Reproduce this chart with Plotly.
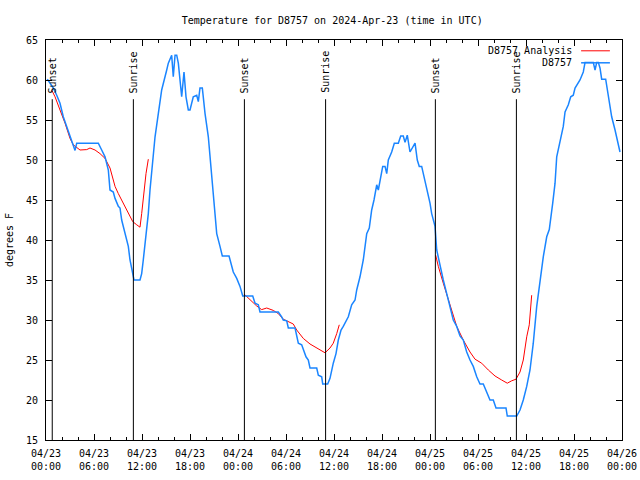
import pandas as pd
import plotly.graph_objects as go

BASE = pd.Timestamp("2024-04-23 00:00")

# Observed temperatures (hours since 04/23 00:00 UTC, degrees F)
obs_hours = [0.16, 0.91, 1.34, 1.75, 2.16, 2.59, 3.21, 3.63, 3.84, 6.54, 6.96, 7.38, 7.79, 8.0, 8.41, 8.63,
             9.04, 9.25, 9.46, 9.88, 10.29, 10.5, 10.84, 11.0, 11.75, 11.96, 12.16, 12.38, 12.59, 12.79, 13.0,
             13.21, 13.41, 13.63, 14.04, 14.46, 15.09, 15.29, 15.71, 15.91, 16.13, 16.34, 16.54, 16.96, 17.25,
             17.5, 17.79, 18.0, 18.41, 18.84, 19.04, 19.25, 19.54, 19.88, 20.29, 20.59, 20.71, 21.0, 21.13,
             21.34, 21.75, 22.04, 22.88, 23.21, 23.41, 23.84, 24.25, 24.59, 25.84, 26.13, 26.54, 26.75, 29.04,
             29.46, 29.66, 30.09, 30.29, 31.13, 31.54, 31.96, 32.5, 32.79, 33.0, 33.84, 34.04, 34.46, 34.59,
             35.21, 35.5, 35.91, 36.25, 36.54, 36.88, 37.16, 37.59, 37.79, 38.21, 38.63, 38.84, 39.25, 39.66,
             40.09, 40.41, 40.71, 41.0, 41.34, 41.54, 41.75, 42.09, 42.38, 42.59, 42.79, 43.21, 43.54, 44.04,
             44.34, 44.66, 44.88, 45.16, 45.5, 45.84, 46.13, 46.41, 46.66, 46.96, 47.16, 47.46, 47.79, 48.0,
             48.21, 48.5, 48.63, 48.84, 49.25, 49.66, 50.09, 50.5, 50.91, 51.34, 51.75, 52.16, 52.59, 53.0,
             53.41, 53.84, 54.25, 54.66, 55.09, 55.5, 55.91, 56.25, 57.5, 57.66, 58.84, 59.25, 59.66, 60.09,
             60.5, 60.91, 61.34, 61.75, 62.16, 62.59, 62.91, 63.34, 63.63, 63.84, 64.04, 64.25, 64.66, 64.88,
             65.29, 65.59, 65.91, 66.13, 66.41, 66.75, 67.16, 67.38, 68.41, 68.63, 68.84, 69.04, 69.25, 69.46,
             69.96, 70.16, 70.5, 70.71, 71.13, 71.54, 71.75]
obs_temp = [60.1, 59.0, 58.1, 57.1, 55.4, 54.2, 52.3, 51.2, 52.1, 52.1, 51.25, 50.4, 48.75, 46.25, 46.0, 45.2,
            44.2, 44.0, 42.5, 40.8, 39.2, 37.5, 35.8, 35.0, 35.0, 35.8, 37.5, 39.6, 41.25, 43.3, 46.25,
            48.75, 51.25, 52.9, 55.8, 58.75, 61.25, 62.1, 63.1, 60.4, 63.1, 63.1, 62.1, 57.9, 61.0,
            57.9, 56.25, 56.25, 57.9, 58.1, 57.3, 59.0, 59.0, 55.8, 52.9, 49.6, 47.9, 45.0, 42.9,
            40.8, 39.2, 38.0, 38.0, 36.7, 36.0, 35.2, 34.2, 33.0, 33.0, 32.1, 31.9, 31.0, 31.0,
            30.4, 30.0, 29.9, 29.0, 29.0, 27.1, 26.9, 25.4, 25.0, 24.0, 24.0, 23.1, 22.9, 22.0,
            22.0, 22.7, 24.6, 25.8, 27.5, 28.75, 29.2, 30.0, 30.4, 31.9, 32.5, 33.75, 35.4, 37.5,
            40.8, 41.5, 43.75, 45.0, 46.9, 46.25, 47.5, 49.2, 49.2, 48.3, 50.0, 51.0, 52.1, 52.1,
            53.0, 53.0, 52.2, 53.1, 51.0, 51.7, 52.1, 50.0, 49.2, 49.2, 48.3, 47.1, 45.8, 44.6,
            43.3, 42.1, 41.7, 38.75, 36.7, 35.0, 33.3, 31.7, 30.0, 29.2, 28.0, 27.5, 26.0, 25.0,
            24.2, 22.9, 22.0, 22.0, 21.0, 20.0, 20.0, 19.0, 19.0, 18.0, 18.0, 18.75, 20.0, 21.7,
            23.75, 27.1, 31.7, 35.0, 37.9, 40.4, 41.3, 44.6, 47.1, 50.4, 51.25, 52.5, 54.2, 56.0,
            56.9, 57.9, 58.1, 59.0, 59.4, 60.0, 61.0, 62.2, 62.2, 61.25, 62.2, 62.2, 61.5, 60.1,
            60.1, 58.75, 56.9, 55.4, 53.75, 52.1, 51.0]

# Analysis (three night segments)
an1_hours = [0.71, 1.13, 1.75, 2.38, 3.0, 3.41, 4.25, 5.09, 5.5, 6.13, 6.75, 7.38, 8.0, 8.63, 9.04, 9.66,
             10.29, 10.84, 11.34, 11.75, 11.96, 12.25, 12.5, 12.79]
an1_temp = [58.75, 57.9, 56.25, 54.6, 52.7, 51.9, 51.25, 51.3, 51.5, 51.25, 50.8, 50.2, 49.0, 46.7, 45.8, 44.6,
            43.3, 42.3, 41.9, 41.6, 43.3, 46.25, 48.3, 50.1]
an2_hours = [24.75, 25.5, 26.34, 26.96, 27.59, 28.41, 29.04, 29.66, 30.29, 30.91, 31.34, 32.16, 33.0, 33.84,
             34.88, 35.5, 35.91, 36.34, 36.66]
an2_temp = [33.25, 32.5, 31.75, 31.3, 31.5, 31.2, 30.8, 30.1, 29.8, 29.5, 28.75, 27.7, 27.0, 26.5,
            25.9, 26.5, 27.1, 28.3, 29.4]
an3_hours = [48.71, 49.04, 49.66, 50.5, 51.34, 52.16, 53.0, 53.63, 54.46, 55.29, 56.13, 56.96, 57.66, 58.21,
             58.75, 59.25, 59.66, 60.09, 60.41, 60.71]
an3_temp = [38.1, 36.7, 34.6, 31.9, 29.2, 27.5, 26.0, 25.1, 24.6, 23.75, 23.0, 22.5, 22.1, 22.4,
            22.6, 23.5, 25.0, 27.9, 29.4, 33.1]

sun_labels = ["Sunset", "Sunrise", "Sunset", "Sunrise", "Sunset", "Sunrise"]
sun_hours = [0.78, 10.92, 24.8, 34.95, 48.67, 58.8]

title_text = "Temperature for D8757 on 2024-Apr-23 (time in UTC)"
y_title = "degrees F"
series_names = ["D8757 Analysis", "D8757"]
RED = "#ff0000"
BLUE = "#1a85ff"
FONT = "DejaVu Sans Mono"


def to_time(hours):
    return [BASE + pd.Timedelta(hours=h) for h in hours]


an_hours = an1_hours + [None] + an2_hours + [None] + an3_hours
an_temp = an1_temp + [None] + an2_temp + [None] + an3_temp
an_x = [None if h is None else BASE + pd.Timedelta(hours=h) for h in an_hours]

fig = go.Figure()
fig.add_trace(go.Scatter(x=an_x, y=an_temp, mode="lines", name=series_names[0],
                         line=dict(color=RED, width=1), connectgaps=False))
fig.add_trace(go.Scatter(x=to_time(obs_hours), y=obs_temp, mode="lines", name=series_names[1],
                         line=dict(color=BLUE, width=1.5)))

for lab, h in zip(sun_labels, sun_hours):
    t = BASE + pd.Timedelta(hours=h)
    fig.add_shape(type="line", x0=t, x1=t, y0=15, y1=57.6, xref="x", yref="y",
                  line=dict(color="black", width=1))
    fig.add_annotation(x=t, y=57.6, xref="x", yref="y", text=lab, textangle=-90,
                       showarrow=False, xanchor="center", yanchor="bottom", yshift=4,
                       font=dict(family=FONT, size=10, color="black"))

# gnuplot-style legend: text right-aligned, sample to the right
for i, (name, col) in enumerate(zip(series_names, [RED, BLUE])):
    ypos = 0.973 - i * 0.03
    fig.add_annotation(x=0.9167, y=ypos, xref="paper", yref="paper", text=name, showarrow=False,
                       xanchor="right", yanchor="middle", font=dict(family=FONT, size=10, color="black"))
    fig.add_shape(type="line", x0=0.929, x1=0.979, y0=ypos, y1=ypos, xref="paper", yref="paper",
                  line=dict(color=col, width=1 if i == 0 else 1.5))

fig.update_layout(
    width=640, height=480,
    margin=dict(l=46, r=18, t=40, b=40, autoexpand=False),
    paper_bgcolor="white", plot_bgcolor="white",
    font=dict(family=FONT, size=10, color="black"),
    title=dict(text=title_text, x=0.519, xanchor="center", y=1 - 20 / 480, yanchor="middle",
               font=dict(family=FONT, size=10, color="black")),
    showlegend=False,
)
fig.update_xaxes(
    type="date", range=[BASE, BASE + pd.Timedelta(hours=72)],
    dtick=6 * 3600000, tick0=BASE, tickformat="%m/%d<br>%H:%M",
    ticks="inside", ticklen=6, tickcolor="black", mirror="ticks",
    showline=True, linecolor="black", linewidth=1, showgrid=False, zeroline=False,
    minor=dict(dtick=2 * 3600000, ticks="inside", ticklen=3, tickcolor="black", showgrid=False),
    tickfont=dict(family=FONT, size=10, color="black"),
    ticklabeloverflow="allow", ticklabelstandoff=4,
)
fig.update_yaxes(
    range=[15, 65], dtick=5, ticks="inside", ticklen=6, tickcolor="black", mirror="ticks",
    showline=True, linecolor="black", linewidth=1, showgrid=False, zeroline=False,
    title=dict(text=y_title, standoff=10, font=dict(family=FONT, size=10, color="black")),
    tickfont=dict(family=FONT, size=10, color="black"),
    ticklabelstandoff=5, ticklabeloverflow="allow",
)

fig.write_html("out.html", config={"displayModeBar": False},
               post_script="document.body.style.margin='0';document.body.style.overflow='hidden';")
